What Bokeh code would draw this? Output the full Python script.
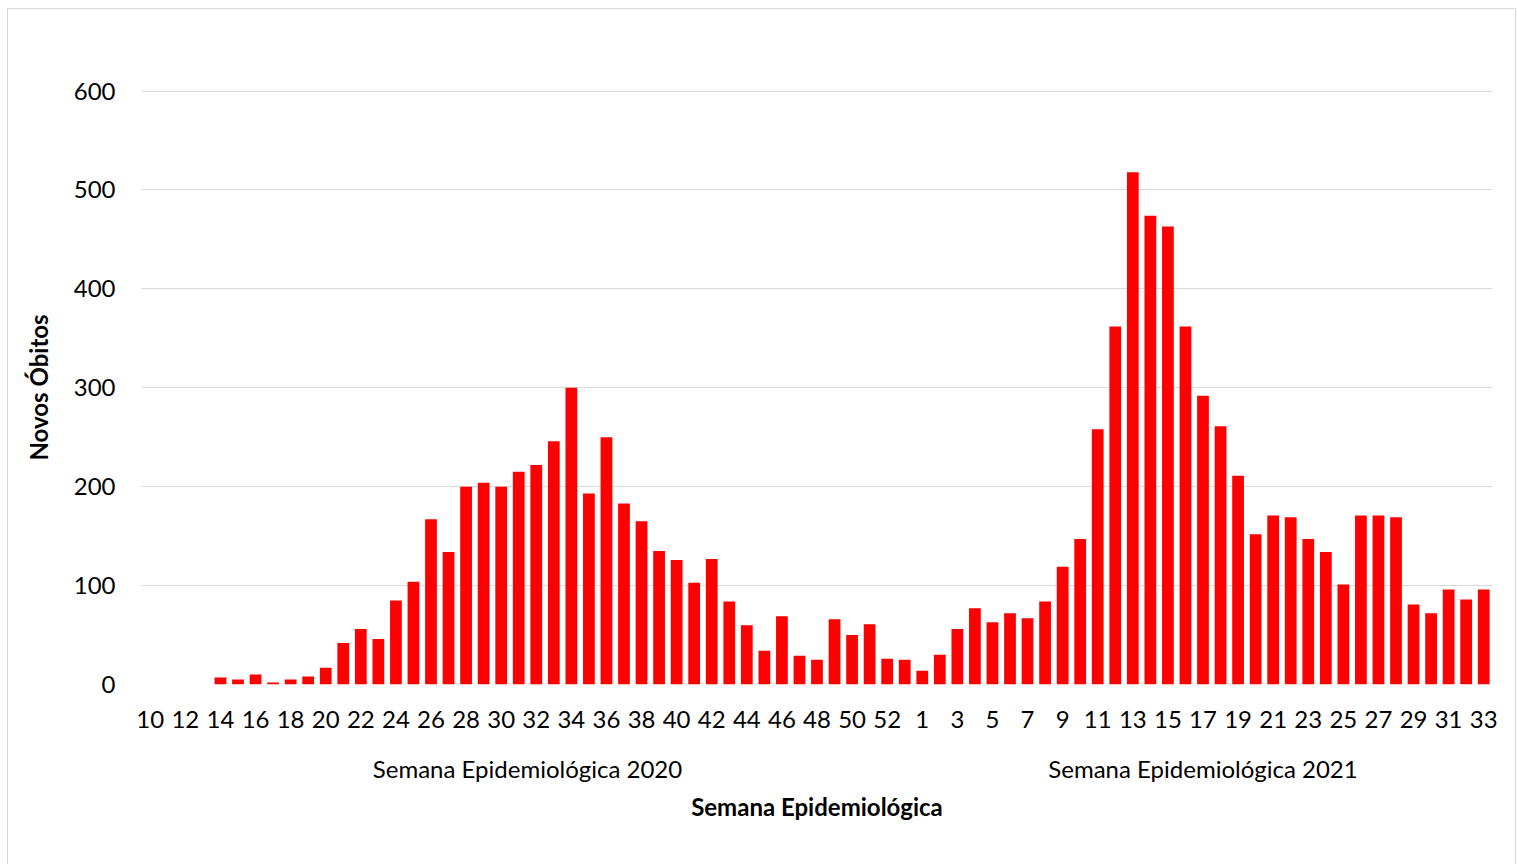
from bokeh.plotting import figure
from bokeh.models import LinearAxis, FixedTicker, Range1d, ColumnDataSource
from bokeh.embed import file_html
from bokeh.resources import INLINE

# ---- data ----
weeks_2020 = list(range(10, 54))
deaths_2020 = [0, 0, 0, 0, 7, 5, 10, 2, 5, 8, 17, 42, 56, 46, 85, 104, 167, 134, 200, 204,
               200, 215, 222, 246, 300, 193, 250, 183, 165, 135, 126, 103, 127, 84, 60, 34,
               69, 29, 25, 66, 50, 61, 26, 25]
weeks_2021 = list(range(1, 34))
deaths_2021 = [14, 30, 56, 77, 63, 72, 67, 84, 119, 147, 258, 362, 518, 474, 463, 362, 292,
               261, 211, 152, 171, 169, 147, 134, 101, 171, 171, 169, 81, 72, 96, 86, 96]
group_labels = ["Semana Epidemiológica 2020", "Semana Epidemiológica 2021"]
y_ticks = [0, 100, 200, 300, 400, 500, 600]

weeks = weeks_2020 + weeks_2021
deaths = deaths_2020 + deaths_2021
idx = list(range(len(weeks)))
src = ColumnDataSource(dict(x=idx, top=deaths))

FONT = "Lato"
FS = "24px"

p = figure(width=1509, height=856, output_backend="svg", toolbar_location=None,
           x_range=Range1d(-0.5, len(weeks) - 0.5), y_range=Range1d(0, 600.6),
           min_border_left=133, min_border_top=81, min_border_right=25, min_border_bottom=181,
           x_axis_location=None, y_axis_location=None,
           styles={"border": "1px solid #d9d9d9", "border-bottom": "none",
                   "margin": "8px 0 0 7px"})
p.outline_line_color = None

p.vbar(x="x", top="top", bottom=0, width=0.67, source=src, fill_color="#ff0000",
       line_color=None)

# y axis
yax = LinearAxis(ticker=FixedTicker(ticks=y_ticks))
yax.axis_line_color = None
yax.major_tick_line_color = None
yax.minor_tick_line_color = None
yax.major_label_standoff = 20
yax.major_label_text_font = FONT
yax.major_label_text_font_size = FS
yax.major_label_text_color = "#000000"
yax.axis_label = "Novos Óbitos"
yax.axis_label_text_font = FONT
yax.axis_label_text_font_size = FS
yax.axis_label_text_font_style = "bold"
yax.axis_label_text_color = "#000000"
yax.axis_label_standoff = 18
p.add_layout(yax, "left")

# x axis: week labels
tick_pos = idx[::2]
xax = LinearAxis(ticker=FixedTicker(ticks=tick_pos))
xax.major_label_overrides = {i: str(weeks[i]) for i in tick_pos}
xax.axis_line_color = None
xax.major_tick_line_color = None
xax.minor_tick_line_color = None
xax.major_label_standoff = 20
xax.major_label_text_font = FONT
xax.major_label_text_font_size = FS
xax.major_label_text_color = "#000000"
p.add_layout(xax, "below")

# x axis: year group labels
n20 = len(weeks_2020)
g_pos = [(n20 - 1) / 2, n20 + (len(weeks_2021) - 1) / 2]
gax = LinearAxis(ticker=FixedTicker(ticks=g_pos))
gax.major_label_overrides = {g_pos[0]: group_labels[0], g_pos[1]: group_labels[1]}
gax.axis_line_color = None
gax.major_tick_line_color = None
gax.minor_tick_line_color = None
gax.major_label_standoff = 17
gax.major_label_text_font = FONT
gax.major_label_text_font_size = FS
gax.major_label_text_color = "#000000"
gax.axis_label = "Semana Epidemiológica"
gax.axis_label_text_font = FONT
gax.axis_label_text_font_size = FS
gax.axis_label_text_font_style = "bold"
gax.axis_label_text_color = "#000000"
gax.axis_label_standoff = 6
p.add_layout(gax, "below")

p.xgrid.visible = False
p.ygrid.ticker = FixedTicker(ticks=y_ticks)
p.ygrid.grid_line_color = "#d9d9d9"
p.ygrid.grid_line_width = 1

open("out.html", "w").write(file_html(p, INLINE))
